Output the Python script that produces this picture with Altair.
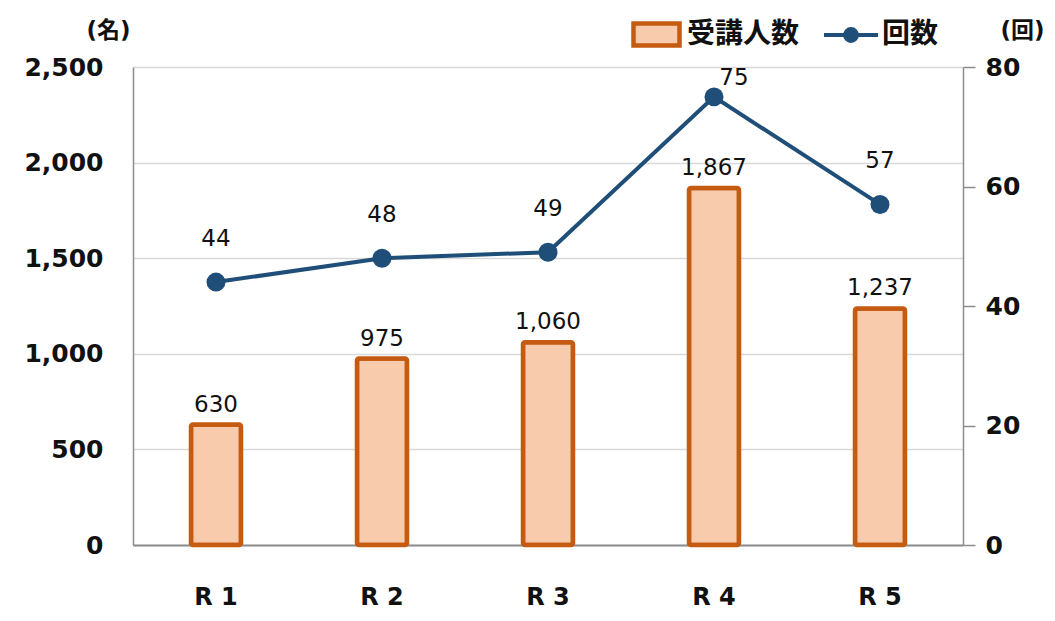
import altair as alt
import pandas as pd

years = ["R 1", "R 2", "R 3", "R 4", "R 5"]
people = [630, 975, 1060, 1867, 1237]
sessions = [44, 48, 49, 75, 57]

df = pd.DataFrame({"year": years, "people": people, "sessions": sessions})

NUM_FONT = "DejaVu Sans"
JP_FONT = "Noto Sans CJK JP"
TITLE_FONT = "DejaVu Sans, Noto Sans CJK JP"
BAR_STROKE = "#C55A11"
BAR_FILL = "#F8CBAD"
LINE_C = "#1F4E79"
TXT = "#111111"

base = alt.Chart(df)

x = alt.X(
    "year:N",
    sort=years,
    scale=alt.Scale(paddingInner=0, paddingOuter=0),
    axis=alt.Axis(
        title=None, labelAngle=0, ticks=False, grid=False,
        domainColor="#8c8c8c", domainWidth=2,
        labelFont=NUM_FONT, labelFontSize=24, labelFontWeight="bold",
        labelColor=TXT, labelPadding=40,
    ),
)

bars = base.transform_calculate(series="'受講人数'").mark_bar(
    size=50, stroke=BAR_STROKE, strokeWidth=4.5, cornerRadius=2
).encode(
    x=x,
    y=alt.Y(
        "people:Q",
        scale=alt.Scale(domain=[0, 2500], nice=False),
        axis=alt.Axis(
            values=[0, 500, 1000, 1500, 2000, 2500], format=",d",
            ticks=False, grid=True, gridColor="#d9d9d9", gridWidth=1.5,
            domainColor="#8c8c8c", domainWidth=1.5,
            labelFont=NUM_FONT, labelFontSize=25, labelFontWeight="bold",
            labelColor=TXT, labelPadding=30,
            title="(名)", titleAngle=0, titleX=-25, titleY=-37,
            titleAlign="center", titleBaseline="middle",
            titleFont=TITLE_FONT, titleFontSize=23, titleFontWeight="bold",
            titleColor=TXT,
        ),
    ),
    fill=alt.Fill(
        "series:N",
        scale=alt.Scale(domain=["受講人数"], range=[BAR_FILL]),
        legend=alt.Legend(
            title=None, orient="none", legendX=496, legendY=-60,
            padding=0,
            symbolType="M-0.92,-0.44H0.92V0.44H-0.92Z", symbolSize=2500,
            symbolStrokeColor=BAR_STROKE, symbolStrokeWidth=4.5,
            symbolFillColor=BAR_FILL,
            labelFont=JP_FONT, labelFontSize=28, labelFontWeight="bold",
            labelColor=TXT, labelOffset=3, labelLimit=300,
        ),
    ),
)

bar_text = base.mark_text(
    dy=-20, fontSize=23, font=NUM_FONT, color=TXT, baseline="middle"
).encode(
    x=x, y=alt.Y("people:Q"), text=alt.Text("people:Q", format=",")
)

line = base.transform_calculate(series="'回数'").mark_line(strokeWidth=4).encode(
    x=x,
    y=alt.Y(
        "sessions:Q",
        scale=alt.Scale(domain=[0, 80], nice=False),
        axis=alt.Axis(
            orient="right", values=[0, 20, 40, 60, 80], grid=False,
            ticks=True, tickSize=12, tickColor="#8c8c8c", tickWidth=1.5,
            domainColor="#8c8c8c", domainWidth=1.5,
            labelFont=NUM_FONT, labelFontSize=25, labelFontWeight="bold",
            labelColor=TXT, labelPadding=10,
            title="(回)", titleAngle=0, titleX=59, titleY=-37,
            titleAlign="center", titleBaseline="middle",
            titleFont=TITLE_FONT, titleFontSize=23, titleFontWeight="bold",
            titleColor=TXT,
        ),
    ),
    stroke=alt.Stroke(
        "series:N",
        scale=alt.Scale(domain=["回数"], range=[LINE_C]),
        legend=alt.Legend(
            title=None, orient="none", legendX=689, legendY=-61,
            padding=0,
            symbolType="M-1,0H1M0.22,0A0.22,0.22 0 1,1 -0.22,0A0.22,0.22 0 1,1 0.22,0Z",
            symbolSize=2916, symbolStrokeWidth=4,
            symbolFillColor=LINE_C,
            labelFont=JP_FONT, labelFontSize=28, labelFontWeight="bold",
            labelColor=TXT, labelOffset=2, labelLimit=300,
        ),
    ),
)

points = base.mark_circle(size=360, color=LINE_C, opacity=1).encode(
    x=x, y=alt.Y("sessions:Q")
)

line_text = base.transform_filter("datum.sessions < 70").mark_text(
    dy=-43, fontSize=23, font=NUM_FONT, color=TXT, baseline="middle"
).encode(x=x, y=alt.Y("sessions:Q"), text="sessions:Q")

line_text_top = base.transform_filter("datum.sessions >= 70").mark_text(
    dx=20, dy=-19, fontSize=23, font=NUM_FONT, color=TXT, baseline="middle"
).encode(x=x, y=alt.Y("sessions:Q"), text="sessions:Q")

left = alt.layer(bars, bar_text)
right = alt.layer(line, points, line_text, line_text_top)

chart = alt.layer(left, right).resolve_scale(y="independent").properties(
    width=830, height=478,
    autosize=alt.AutoSizeParams(type="none"),
    padding={"left": 125, "top": 59, "right": 84, "bottom": 68},
    background="white",
).configure_view(stroke=None)

chart.save("out.html", embed_options={"renderer": "svg", "actions": False})
